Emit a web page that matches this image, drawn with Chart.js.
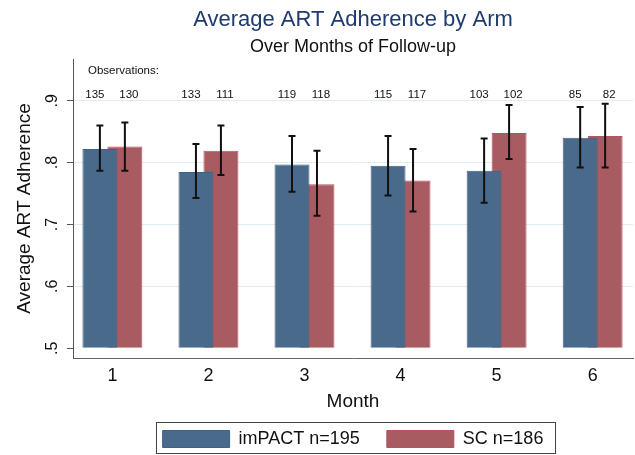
<!DOCTYPE html>
<html>
<head>
<meta charset="utf-8">
<script src="https://cdn.jsdelivr.net/npm/chart.js@4.4.1/dist/chart.umd.min.js"></script>
<style>
  html, body { margin: 0; padding: 0; background: #ffffff; }
  #c { display: block; }
</style>
</head>
<body>
<canvas id="c" width="635" height="455"></canvas>
<script>
// ---- data ----
const months = [1, 2, 3, 4, 5, 6];
const impactMean = [0.822, 0.785, 0.797, 0.795, 0.787, 0.840];
const impactLo   = [0.787, 0.743, 0.753, 0.747, 0.735, 0.792];
const impactHi   = [0.860, 0.830, 0.843, 0.843, 0.839, 0.890];
const scMean     = [0.826, 0.819, 0.765, 0.771, 0.848, 0.843];
const scLo       = [0.787, 0.780, 0.714, 0.721, 0.806, 0.792];
const scHi       = [0.865, 0.860, 0.819, 0.822, 0.893, 0.895];
const impactN    = [135, 133, 119, 115, 103, 85];
const scN        = [130, 111, 118, 117, 102, 82];
const yTickValues = [0.5, 0.6, 0.7, 0.8, 0.9];
const yTickLabels = ['.5', '.6', '.7', '.8', '.9'];
const seriesNames = ['imPACT n=195', 'SC n=186'];

const FONT = "'Liberation Sans', Arial, Helvetica, sans-serif";
Chart.defaults.font.family = FONT;
Chart.defaults.color = '#111';

const errLo = [impactLo, scLo];
const errHi = [impactHi, scHi];
const obsN = [impactN, scN];

const errorBars = {
  id: 'errorBars',
  afterDatasetsDraw(chart) {
    const ctx = chart.ctx;
    const y = chart.scales.y;
    ctx.save();
    ctx.strokeStyle = '#111';
    ctx.lineWidth = 2;
    chart.data.datasets.forEach((ds, di) => {
      const meta = chart.getDatasetMeta(di);
      meta.data.forEach((el, i) => {
        const x = el.x;
        const yh = y.getPixelForValue(errHi[di][i]);
        const yl = y.getPixelForValue(errLo[di][i]);
        ctx.beginPath();
        ctx.moveTo(x, yh); ctx.lineTo(x, yl);
        ctx.moveTo(x - 3.5, yh); ctx.lineTo(x + 3.5, yh);
        ctx.moveTo(x - 3.5, yl); ctx.lineTo(x + 3.5, yl);
        ctx.stroke();
      });
    });
    ctx.restore();
  }
};

const annotations = {
  id: 'annotations',
  afterDraw(chart) {
    const ctx = chart.ctx;
    const area = chart.chartArea;
    const y = chart.scales.y;
    ctx.save();
    // rotated y tick labels
    ctx.fillStyle = '#111';
    ctx.font = '16px ' + FONT;
    ctx.textAlign = 'center';
    ctx.textBaseline = 'middle';
    yTickValues.forEach((v, i) => {
      const py = y.getPixelForValue(v);
      ctx.save();
      ctx.translate(53, py);
      ctx.rotate(-Math.PI / 2);
      ctx.fillText(yTickLabels[i], 0, 0);
      ctx.restore();
    });
    // observations
    ctx.font = '11.5px ' + FONT;
    ctx.textAlign = 'left';
    ctx.fillText('Observations:', area.left + 15, area.top + 12);
    ctx.textAlign = 'center';
    chart.data.datasets.forEach((ds, di) => {
      const meta = chart.getDatasetMeta(di);
      const shift = di === 0 ? -5 : 4;
      meta.data.forEach((el, i) => {
        ctx.fillText(String(obsN[di][i]), el.x + shift, area.top + 36);
      });
    });
    // legend frame
    const lg = chart.legend;
    if (lg && lg.legendHitBoxes && lg.legendHitBoxes.length) {
      const hb = lg.legendHitBoxes;
      const first = hb[0], last = hb[hb.length - 1];
      const l = first.left - 7, r = last.left + last.width + 11;
      const t = first.top - 8, b = first.top + first.height + 5;
      ctx.strokeStyle = '#444';
      ctx.lineWidth = 1;
      ctx.strokeRect(Math.round(l) + 0.5, Math.round(t) + 0.5, Math.round(r - l), Math.round(b - t));
    }
    ctx.restore();
  }
};

new Chart(document.getElementById('c'), {
  type: 'bar',
  data: {
    datasets: [
      {
        label: seriesNames[0],
        data: months.map((m, i) => ({ x: m, y: impactMean[i] })),
        backgroundColor: '#4a6a8c',
        borderColor: '#3f6288',
        borderWidth: 1,
        base: 0.5
      },
      {
        label: seriesNames[1],
        data: months.map((m, i) => ({ x: m, y: scMean[i] })),
        backgroundColor: '#a85c61',
        borderColor: '#b2535d',
        borderWidth: 1,
        base: 0.5
      }
    ]
  },
  options: {
    responsive: false,
    animation: false,
    categoryPercentage: 0.52,
    barPercentage: 1.4,
    layout: { padding: { top: 0, left: 0, right: 2, bottom: -3 } },
    plugins: {
      title: {
        display: true,
        fullSize: false,
        text: 'Average ART Adherence by Arm',
        color: '#1f3a6e',
        font: { size: 22, weight: 'normal' },
        padding: { top: 7.1, bottom: 2 }
      },
      subtitle: {
        display: true,
        fullSize: false,
        text: 'Over Months of Follow-up',
        color: '#111',
        font: { size: 18, weight: 'normal' },
        padding: { top: 1.2, bottom: 0.7 }
      },
      legend: {
        position: 'bottom',
        fullSize: false,
        labels: {
          boxWidth: 67,
          boxHeight: 17,
          padding: 27,
          color: '#111',
          font: { size: 18 }
        }
      },
      tooltip: { enabled: false }
    },
    scales: {
      x: {
        type: 'linear',
        min: 0.59,
        max: 6.42,
        offset: false,
        afterBuildTicks(s) { s.ticks = months.map(v => ({ value: v })); },
        afterFit(s) { s.height = 45; },
        grid: { display: false, drawTicks: false, tickLength: 0, offset: false },
        border: { display: true, color: '#666', width: 1 },
        ticks: {
          font: { size: 18 },
          color: '#111',
          padding: 7.2,
          maxRotation: 0,
          autoSkip: false,
          callback: (v) => String(v)
        },
        title: {
          display: true,
          text: 'Month',
          font: { size: 19 },
          color: '#111',
          padding: { top: 0, bottom: -10.4 }
        }
      },
      y: {
        type: 'linear',
        min: 0.4843,
        max: 0.9674,
        afterBuildTicks(s) { s.ticks = yTickValues.map(v => ({ value: v })); },
        afterFit(s) { s.width = 73; },
        ticks: { display: false },
        grid: {
          color: (c) => (c.tick && c.tick.value === 0.5) ? 'rgba(0,0,0,0)' : '#e2ebf0',
          lineWidth: 1,
          drawTicks: true,
          tickLength: 6,
          tickColor: '#555'
        },
        border: { display: true, color: '#555', width: 1 },
        title: {
          display: true,
          text: 'Average ART Adherence',
          font: { size: 19 },
          color: '#111',
          padding: { top: 13, bottom: 0 }
        }
      }
    }
  },
  plugins: [errorBars, annotations]
});
</script>
</body>
</html>
